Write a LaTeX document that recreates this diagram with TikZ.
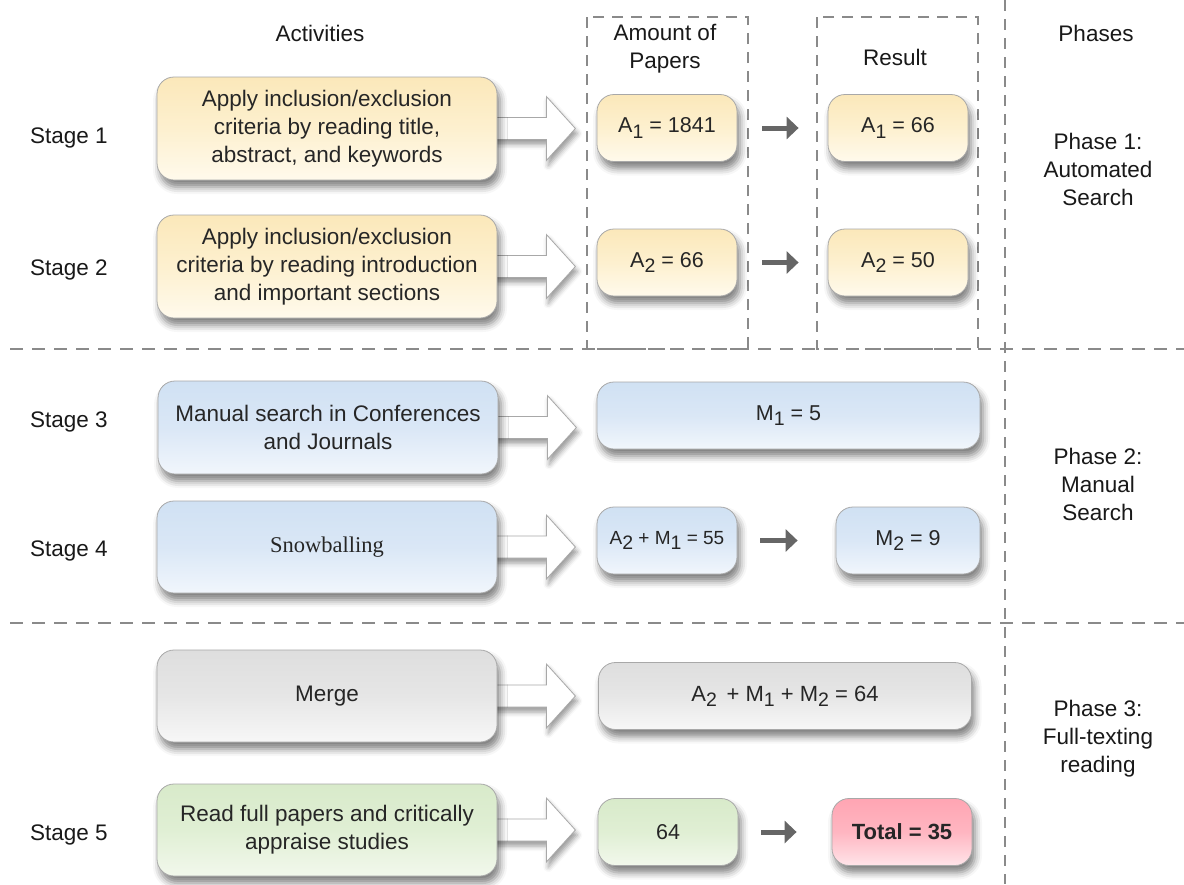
\documentclass[tikz,border=0pt]{standalone}
\usepackage{fontspec}
\setmainfont{Liberation Sans}
\newfontfamily\timesfam{Liberation Serif}
\usetikzlibrary{shadows.blur,arrows.meta}

\pgfdeclarelayer{background}
\pgfsetlayers{background,main}

\definecolor{txt}{HTML}{262626}
\definecolor{rim}{HTML}{A8A8A8}
\definecolor{dashgray}{HTML}{8A8A8A}
\definecolor{yelT}{HTML}{FBE8BA}
\definecolor{yelM}{HTML}{FDF0CF}
\definecolor{yelB}{HTML}{FFFAEC}
\definecolor{bluT}{HTML}{D0E1F3}
\definecolor{bluM}{HTML}{DAE7F6}
\definecolor{bluB}{HTML}{F1F6FC}
\definecolor{gryT}{HTML}{DEDEDE}
\definecolor{gryM}{HTML}{E6E6E6}
\definecolor{gryB}{HTML}{F7F7F7}
\definecolor{grnT}{HTML}{D8EACA}
\definecolor{grnM}{HTML}{E0EFD4}
\definecolor{grnB}{HTML}{F2F8EC}
\definecolor{redT}{HTML}{FFA5B3}
\definecolor{redM}{HTML}{FFB6C1}
\definecolor{redB}{HTML}{FFE4E9}
\definecolor{arrowgray}{HTML}{666666}

\newcommand{\bigfont}{\fontsize{22.5}{28}\selectfont}
\newcommand{\numfont}{\fontsize{21.5}{26}\selectfont}
\newcommand{\lowsub}[1]{\raisebox{-0.45ex}{\fontsize{19.5}{19.5}\selectfont #1}}

\tikzset{
  x=1pt, y=-1pt,
  softshadow/.style={blur shadow={shadow xshift=3pt, shadow yshift=-7pt,
      shadow blur radius=7pt, shadow opacity=50}},
  card/.style={draw=rim, line width=0.8pt, rounded corners=17pt, align=center,
      text=txt, inner sep=0pt, softshadow},
  actbox/.style={card, minimum width=340pt, font=\bigfont},
  numbox/.style={card, minimum height=67pt, font=\numfont},
  yellow/.style={top color=yelT, bottom color=yelB, middle color=yelM},
  blue/.style={top color=bluT, bottom color=bluB, middle color=bluM},
  grey/.style={top color=gryT, bottom color=gryB, middle color=gryM},
  green/.style={top color=grnT, bottom color=grnB, middle color=grnM},
  red/.style={top color=redT, bottom color=redB, middle color=redM},
  label/.style={font=\bigfont, text=black!90, align=center, inner sep=0pt},
  stagelabel/.style={font=\bigfont, text=black!90, anchor=west, inner sep=0pt},
  sep/.style={dashgray, line width=1.3pt, dash pattern=on 13pt off 9pt},
  vsep/.style={dashgray, line width=1.3pt, dash pattern=on 11pt off 8pt},
  colbox/.style={dashgray, line width=1.2pt, dash pattern=on 11pt off 8pt},
  fatarrow/.style={draw=rim, fill=white, line width=0.8pt, line join=miter,
      blur shadow={shadow xshift=2pt, shadow yshift=-5pt, shadow blur radius=5pt, shadow opacity=40}},
  steparrow/.style={arrowgray, line width=5pt,
      -{Triangle[length=12pt,width=22pt]}},
}

\begin{document}
\begin{tikzpicture}
\useasboundingbox (0,0) rectangle (1184,884);

% column frames and phase separators
\draw[colbox] (587,17) rectangle (748,349);
\draw[colbox] (817,17) rectangle (978,349);
\draw[sep] (10,349) -- (1184,349);
\draw[sep] (10,623) -- (1184,623);
\draw[vsep] (1005,0) -- (1005,884);

% column headings
\node[label] (hAct) at (320,33) {Activities};
\node[label] (hAmt) at (665,49) {Amount of\\Papers};
\node[label] (hRes) at (895,57) {Result};
\node[label] (hPha) at (1096,33) {Phases};

% stage names
\node[stagelabel] (st1) at (30,138) {Stage 1};
\node[stagelabel] (st2) at (30,270) {Stage 2};
\node[stagelabel] (st3) at (30,422) {Stage 3};
\node[stagelabel] (st4) at (30,551) {Stage 4};
\node[stagelabel] (st5) at (30,835) {Stage 5};

% phase names
\node[label] (ph1) at (1098,169) {Phase 1:\\Automated\\Search};
\node[label] (ph2) at (1098,484) {Phase 2:\\Manual\\Search};
\node[label] (ph3) at (1098,739) {Phase 3:\\Full-texting\\reading};

% activity cards
\node[actbox, yellow, minimum height=103pt] (s1) at (327,128.5)
  {Apply inclusion/exclusion\\criteria by reading title,\\abstract, and keywords};
\node[actbox, yellow, minimum height=103pt] (s2) at (327,266.5)
  {Apply inclusion/exclusion\\criteria by reading introduction\\and important sections};
\node[actbox, blue, minimum height=93pt] (s3) at (328,427.5)
  {Manual search in Conferences\\and Journals};
\node[actbox, blue, minimum height=92pt] (s4) at (327,547)
  {\timesfam Snowballing};
\node[actbox, grey, minimum height=92pt] (mg) at (327,696) {Merge};
\node[actbox, green, minimum height=92pt] (s5) at (327,830)
  {Read full papers and critically\\appraise studies};

% paper counts
\node[numbox, yellow, minimum width=140pt] (a1) at (667,128) {A\lowsub{1} = 1841};
\node[numbox, yellow, minimum width=140pt] (r1) at (898,128) {A\lowsub{1} = 66};
\node[numbox, yellow, minimum width=140pt] (a2) at (667,262.5) {A\lowsub{2} = 66};
\node[numbox, yellow, minimum width=140pt] (r2) at (898,262.5) {A\lowsub{2} = 50};
\node[numbox, blue, minimum width=383pt] (m1) at (788.5,415.5) {M\lowsub{1} = 5};
\node[numbox, blue, minimum width=140pt, font=\fontsize{19}{24}\selectfont] (am) at (667,540.5)
  {A\lowsub{2} + M\lowsub{1} = 55};
\node[numbox, blue, minimum width=144pt] (m2) at (908,540.5) {M\lowsub{2} = 9};
\node[numbox, grey, minimum width=373pt, font=\fontsize{22}{26}\selectfont] (mr) at (785,696)
  {A\lowsub{2}\, + M\lowsub{1} + M\lowsub{2} = 64};
\node[numbox, green, minimum width=140pt] (f64) at (668,832) {64};
\node[numbox, red, minimum width=140pt, font=\fontsize{22}{26}\selectfont\bfseries] (tot) at (902,832)
  {Total = 35};

% hollow arrows from each activity to its count, tucked behind the cards
\begin{pgfonlayer}{background}
\foreach \src in {s1,s2,s3,s4,mg,s5}{
  \draw[fatarrow] (\src.east) ++(-6,-11) -- ++(55,0) -- ++(0,-21) -- ++(29,32)
    -- ++(-29,32) -- ++(0,-21) -- ++(-55,0) -- cycle;
}
\end{pgfonlayer}

% count-to-result arrows
\draw[steparrow, shorten <=25pt, shorten >=29pt] (a1.east) -- (r1.west);
\draw[steparrow, shorten <=25pt, shorten >=29pt] (a2.east) -- (r2.west);
\draw[steparrow, shorten <=23pt, shorten >=38pt] (am.east) -- (m2.west);
\draw[steparrow, shorten <=23pt, shorten >=35pt] (f64.east) -- (tot.west);
\end{tikzpicture}
\end{document}
